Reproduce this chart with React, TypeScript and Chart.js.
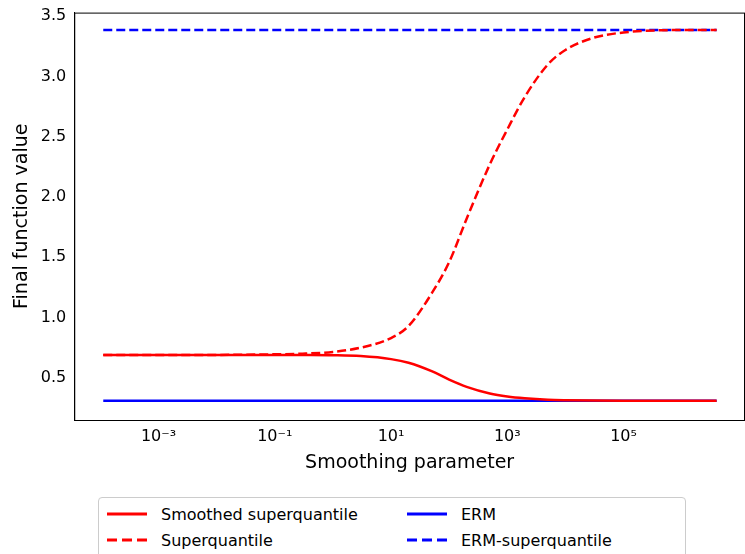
import React, { useEffect, useRef } from "react";
import { Chart, registerables } from "chart.js";
Chart.register(...registerables);

const xs = [1.12e-4, 1e-3, 1e-2, 0.1, 0.3, 1, 3, 10, 20, 50, 100, 200, 500, 1000, 2000, 5000, 1e4, 3e4, 1e5, 1e6, 4e6];
const superq = [0.69, 0.69, 0.69, 0.695, 0.70, 0.715, 0.75, 0.83, 0.93, 1.2, 1.46, 1.82, 2.27, 2.56, 2.83, 3.1, 3.22, 3.32, 3.365, 3.385, 3.385];
const smoothed = [0.69, 0.69, 0.69, 0.69, 0.689, 0.687, 0.68, 0.655, 0.625, 0.555, 0.485, 0.425, 0.37, 0.345, 0.33, 0.318, 0.314, 0.311, 0.31, 0.31, 0.31];
const ermValue = 0.31;
const ermSuperValue = 3.385;
const supText: Record<string, string> = { "-": "⁻", "0": "⁰", "1": "¹", "2": "²", "3": "³", "4": "⁴", "5": "⁵", "6": "⁶" };

export default function App() {
  const ref = useRef<HTMLCanvasElement>(null);
  useEffect(() => {
    document.body.style.margin = "0";
    const pts = (ys: number[]) => xs.map((x, i) => ({ x, y: ys[i] }));
    const flat = (v: number) => [{ x: xs[0], y: v }, { x: xs[xs.length - 1], y: v }];
    const font = { family: "DejaVu Sans", size: 16 };
    const boxPlugin = {
      id: "box",
      afterDraw(c: any) {
        const { left, right, top, bottom } = c.chartArea;
        const ctx = c.ctx;
        ctx.save();
        ctx.strokeStyle = "#000";
        ctx.lineWidth = 1;
        ctx.strokeRect(left + 0.5, top + 0.5, right - left - 1, bottom - top);
        ctx.restore();
      },
    };
    const chart = new Chart(ref.current!, {
      type: "line",
      data: {
        datasets: [
          { data: pts(smoothed), borderColor: "red", borderWidth: 2.5, pointRadius: 0, cubicInterpolationMode: "monotone" },
          { data: pts(superq), borderColor: "red", borderWidth: 2.5, borderDash: [9, 4], pointRadius: 0, cubicInterpolationMode: "monotone" },
          { data: flat(ermValue), borderColor: "blue", borderWidth: 2.5, pointRadius: 0 },
          { data: flat(ermSuperValue), borderColor: "blue", borderWidth: 2.5, borderDash: [9, 4], pointRadius: 0 },
        ],
      },
      options: {
        animation: false,
        responsive: false,
        layout: { padding: { top: 0, right: 0, left: 7 } },
        plugins: { legend: { display: false }, tooltip: { enabled: false } },
        scales: {
          x: {
            type: "logarithmic",
            min: 10 ** -4.45,
            max: 10 ** 7.09,
            grid: { display: false, drawTicks: true, tickLength: 4 } as any,
            border: { display: true, color: "#000" },
            afterBuildTicks: (s: any) => {
              s.ticks = [-4, -3, -2, -1, 0, 1, 2, 3, 4, 5, 6, 7].map((e) => ({ value: 10 ** e }));
            },
            ticks: {
              color: "#000",
              font,
              autoSkip: false,
              maxRotation: 0,
              callback: (v: any) => {
                const e = Math.round(Math.log10(Number(v)));
                if (Math.abs(e % 2) !== 1 || e === 7) return "";
                return "10" + String(e).split("").map((ch) => supText[ch]).join("");
              },
            },
            title: { display: true, text: "Smoothing parameter", color: "#000", font: { family: "DejaVu Sans", size: 19 }, padding: { top: 2 } },
          },
          y: {
            min: 0.15,
            max: 3.53,
            grid: { display: false, drawTicks: true, tickLength: 5 } as any,
            border: { display: true, color: "#000" },
            afterBuildTicks: (s: any) => {
              s.ticks = [0.5, 1, 1.5, 2, 2.5, 3, 3.5].map((value) => ({ value }));
            },
            ticks: { color: "#000", font, callback: (v: any) => Number(v).toFixed(1) },
            title: { display: true, text: "Final function value", color: "#000", font: { family: "DejaVu Sans", size: 19 } },
          },
        },
      },
      plugins: [boxPlugin],
    });
    return () => chart.destroy();
  }, []);
  const item = (dash: boolean, color: string, label: string) => (
    <div style={{ display: "flex", alignItems: "center", height: 26 }}>
      <svg width={44} height={10} style={{ marginRight: 12 }}>
        <line x1={2} y1={5} x2={42} y2={5} stroke={color} strokeWidth={3} strokeDasharray={dash ? "10 5" : undefined} />
      </svg>
      <span>{label}</span>
    </div>
  );
  return (
    <div style={{ position: "relative", width: 745, height: 554, overflow: "hidden", background: "#fff" }}>
      <canvas ref={ref} width={745} height={478} />
      <div style={{ position: "absolute", left: 98, top: 497, width: 588, height: 70, border: "1px solid #ccc", borderRadius: 4, fontFamily: "DejaVu Sans", fontSize: 16, display: "flex", padding: "3px 6px", boxSizing: "border-box" }}>
        <div style={{ width: 300 }}>
          {item(false, "red", "Smoothed superquantile")}
          {item(true, "red", "Superquantile")}
        </div>
        <div>
          {item(false, "blue", "ERM")}
          {item(true, "blue", "ERM-superquantile")}
        </div>
      </div>
    </div>
  );
}
